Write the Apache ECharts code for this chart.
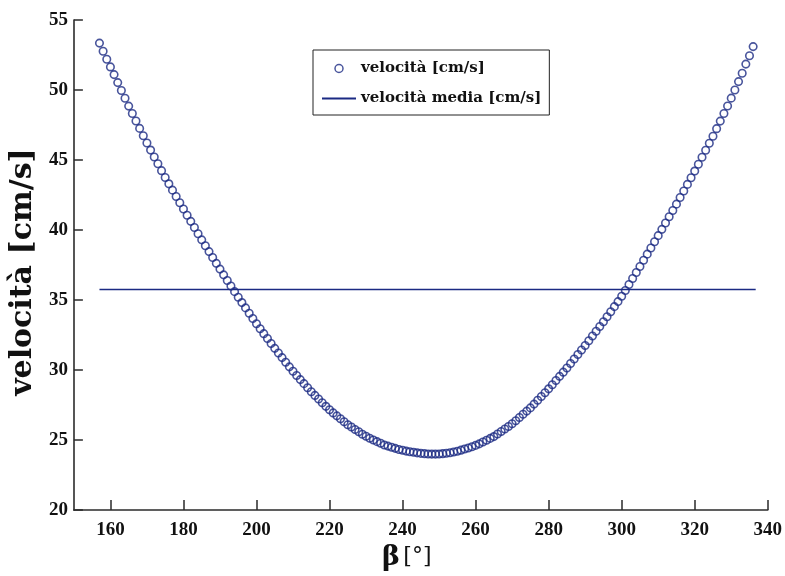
<!DOCTYPE html>
<html>
<head>
<meta charset="utf-8">
<script src="https://cdn.jsdelivr.net/npm/echarts@6/dist/echarts.min.js"></script>
<style>
  html, body { margin: 0; padding: 0; background: #ffffff; }
  #chart { width: 785px; height: 576px; }
</style>
</head>
<body>
<div id="chart"></div>
<script>
// Crank angle β in degrees, one sample per degree
const beta = [
  157, 158, 159, 160, 161, 162, 163, 164, 165, 166,
  167, 168, 169, 170, 171, 172, 173, 174, 175, 176,
  177, 178, 179, 180, 181, 182, 183, 184, 185, 186,
  187, 188, 189, 190, 191, 192, 193, 194, 195, 196,
  197, 198, 199, 200, 201, 202, 203, 204, 205, 206,
  207, 208, 209, 210, 211, 212, 213, 214, 215, 216,
  217, 218, 219, 220, 221, 222, 223, 224, 225, 226,
  227, 228, 229, 230, 231, 232, 233, 234, 235, 236,
  237, 238, 239, 240, 241, 242, 243, 244, 245, 246,
  247, 248, 249, 250, 251, 252, 253, 254, 255, 256,
  257, 258, 259, 260, 261, 262, 263, 264, 265, 266,
  267, 268, 269, 270, 271, 272, 273, 274, 275, 276,
  277, 278, 279, 280, 281, 282, 283, 284, 285, 286,
  287, 288, 289, 290, 291, 292, 293, 294, 295, 296,
  297, 298, 299, 300, 301, 302, 303, 304, 305, 306,
  307, 308, 309, 310, 311, 312, 313, 314, 315, 316,
  317, 318, 319, 320, 321, 322, 323, 324, 325, 326,
  327, 328, 329, 330, 331, 332, 333, 334, 335, 336
];

// Velocity [cm/s] at each angle
const velocity = [
  53.35, 52.77, 52.20, 51.65, 51.10, 50.53, 49.97, 49.41, 48.85, 48.32,
  47.79, 47.26, 46.73, 46.22, 45.71, 45.22, 44.73, 44.24, 43.75, 43.30,
  42.85, 42.40, 41.95, 41.50, 41.06, 40.62, 40.18, 39.74, 39.30, 38.88,
  38.46, 38.04, 37.62, 37.21, 36.80, 36.40, 36.00, 35.60, 35.20, 34.82,
  34.44, 34.06, 33.68, 33.31, 32.95, 32.60, 32.25, 31.90, 31.55, 31.22,
  30.89, 30.56, 30.23, 29.92, 29.61, 29.32, 29.03, 28.74, 28.45, 28.19,
  27.93, 27.67, 27.41, 27.17, 26.94, 26.73, 26.52, 26.31, 26.10, 25.93,
  25.76, 25.59, 25.42, 25.27, 25.13, 25.01, 24.89, 24.77, 24.65, 24.57,
  24.49, 24.41, 24.33, 24.27, 24.21, 24.17, 24.13, 24.09, 24.05, 24.03,
  24.01, 24.00, 24.00, 24.01, 24.03, 24.06, 24.10, 24.15, 24.20, 24.28,
  24.36, 24.44, 24.52, 24.62, 24.73, 24.86, 24.99, 25.12, 25.25, 25.43,
  25.61, 25.79, 25.97, 26.17, 26.38, 26.61, 26.84, 27.07, 27.30, 27.57,
  27.84, 28.11, 28.38, 28.66, 28.95, 29.25, 29.55, 29.85, 30.15, 30.47,
  30.79, 31.11, 31.43, 31.76, 32.09, 32.43, 32.77, 33.11, 33.45, 33.81,
  34.17, 34.53, 34.89, 35.27, 35.68, 36.11, 36.54, 36.97, 37.40, 37.84,
  38.28, 38.72, 39.16, 39.60, 40.05, 40.50, 40.95, 41.40, 41.85, 42.32,
  42.79, 43.26, 43.73, 44.21, 44.70, 45.20, 45.70, 46.20, 46.70, 47.24,
  47.78, 48.32, 48.86, 49.42, 50.00, 50.60, 51.20, 51.85, 52.45, 53.10
];

// Mean velocity [cm/s] and the angular span it is drawn over
const meanVelocity = 35.75;
const meanSpan = [157, 336.7];

// Tick labels
const xTicks = [160, 180, 200, 220, 240, 260, 280, 300, 320, 340];
const yTicks = [20, 25, 30, 35, 40, 45, 50, 55];

const navy = '#1b2a83';
const axisColor = '#2b2b2b';
const tickFont = 'Liberation Serif';
const labelFont = 'DejaVu Serif';

const chart = echarts.init(document.getElementById('chart'), null, { renderer: 'canvas' });

chart.setOption({
  backgroundColor: '#ffffff',
  animation: false,
  grid: { left: 68, right: 16, top: 20, bottom: 64 },
  legend: {
    orient: 'vertical',
    left: 313,
    top: 50,
    padding: [11, 8, 9, 8],
    itemGap: 15,
    itemWidth: 34,
    itemHeight: 8,
    borderColor: '#222222',
    borderWidth: 1,
    backgroundColor: '#ffffff',
    textStyle: { fontFamily: labelFont, fontWeight: 'bold', fontSize: 15, color: '#111111' },
    data: [
      { name: 'velocità [cm/s]', icon: 'circle', itemStyle: { color: 'transparent', borderColor: navy, borderWidth: 1.5 } },
      { name: 'velocità media [cm/s]', itemStyle: { opacity: 0 } }
    ]
  },
  xAxis: {
    type: 'value',
    min: 150,
    max: 340,
    name: '{b|β} {u|[°]}',
    nameLocation: 'middle',
    nameGap: 30,
    nameTextStyle: {
      padding: [0, 28, 0, 0],
      rich: {
        b: { fontFamily: labelFont, fontWeight: 'bold', fontSize: 27, color: '#111111' },
        u: { fontFamily: labelFont, fontWeight: 'normal', fontSize: 22, color: '#111111' }
      }
    },
    axisLine: { lineStyle: { color: axisColor, width: 1.6 } },
    axisTick: { inside: true, length: 10, customValues: xTicks, lineStyle: { color: axisColor, width: 1.5 } },
    axisLabel: {
      customValues: xTicks,
      margin: 10,
      fontFamily: tickFont, fontWeight: 'bold', fontSize: 19, color: '#111111'
    },
    splitLine: { show: false }
  },
  yAxis: {
    type: 'value',
    min: 20,
    max: 55,
    name: 'velocità [cm/s]',
    nameLocation: 'middle',
    nameGap: 28,
    nameTextStyle: { fontFamily: labelFont, fontWeight: 'bold', fontSize: 30, color: '#111111', padding: [0, 14, 0, 0] },
    axisLine: { lineStyle: { color: axisColor, width: 1.6 } },
    axisTick: { inside: true, length: 9, customValues: yTicks, lineStyle: { color: axisColor, width: 1.5 } },
    axisLabel: {
      customValues: yTicks,
      margin: 6,
      fontFamily: tickFont, fontWeight: 'bold', fontSize: 19, color: '#111111'
    },
    splitLine: { show: false }
  },
  series: [
    {
      name: 'velocità [cm/s]',
      type: 'scatter',
      symbol: 'circle',
      symbolSize: 7.5,
      itemStyle: { color: 'transparent', borderColor: navy, borderWidth: 1.6 },
      data: beta.map((b, i) => [b, velocity[i]])
    },
    {
      name: 'velocità media [cm/s]',
      type: 'line',
      symbol: 'none',
      lineStyle: { color: navy, width: 1.5 },
      itemStyle: { color: navy },
      data: meanSpan.map(b => [b, meanVelocity])
    }
  ]
});
</script>
</body>
</html>
